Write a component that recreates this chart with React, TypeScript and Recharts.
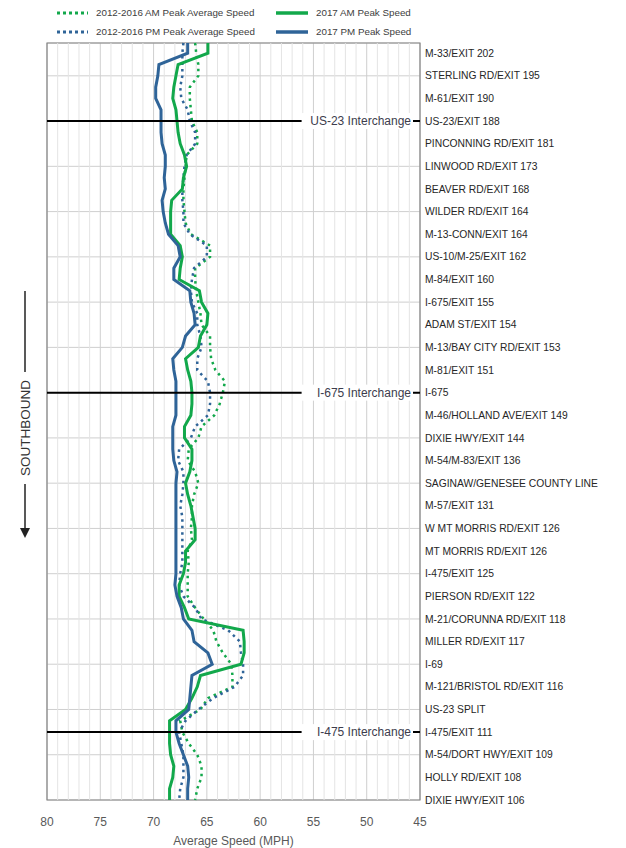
import React from 'react';
import { LineChart, Line, XAxis, YAxis, CartesianGrid, ReferenceLine, ReferenceArea } from 'recharts';

const stations = [
  'M-33/EXIT 202',
  'STERLING RD/EXIT 195',
  'M-61/EXIT 190',
  'US-23/EXIT 188',
  'PINCONNING RD/EXIT 181',
  'LINWOOD RD/EXIT 173',
  'BEAVER RD/EXIT 168',
  'WILDER RD/EXIT 164',
  'M-13-CONN/EXIT 164',
  'US-10/M-25/EXIT 162',
  'M-84/EXIT 160',
  'I-675/EXIT 155',
  'ADAM ST/EXIT 154',
  'M-13/BAY CITY RD/EXIT 153',
  'M-81/EXIT 151',
  'I-675',
  'M-46/HOLLAND AVE/EXIT 149',
  'DIXIE HWY/EXIT 144',
  'M-54/M-83/EXIT 136',
  'SAGINAW/GENESEE COUNTY LINE',
  'M-57/EXIT 131',
  'W MT MORRIS RD/EXIT 126',
  'MT MORRIS RD/EXIT 126',
  'I-475/EXIT 125',
  'PIERSON RD/EXIT 122',
  'M-21/CORUNNA RD/EXIT 118',
  'MILLER RD/EXIT 117',
  'I-69',
  'M-121/BRISTOL RD/EXIT 116',
  'US-23 SPLIT',
  'I-475/EXIT 111',
  'M-54/DORT HWY/EXIT 109',
  'HOLLY RD/EXIT 108',
  'DIXIE HWY/EXIT 106',
];

// position along the corridor, in station steps (0 = M-33, 33 = Dixie Hwy/Exit 106)
const positions = [
  -0.45, 0, 0.5, 1, 1.5, 2, 2.5, 3, 3.5, 4, 4.5, 5, 5.5, 6, 6.5, 7, 7.5, 8,
  8.5, 9, 9.5, 10, 10.5, 11, 11.5, 12, 12.5, 13, 13.5, 14, 14.5, 15, 15.5, 16,
  16.5, 17, 17.5, 18, 18.5, 19, 19.5, 20, 20.5, 21, 21.5, 22, 22.5, 23, 23.5, 24,
  24.5, 25, 25.5, 26, 26.5, 27, 27.5, 28, 28.5, 29, 29.5, 30, 30.5, 31, 31.5, 32,
  32.5, 33,
];

const amHist = [
  66.1, 66.0, 65.8, 65.8, 66.6, 66.6, 66.5, 66.4, 65.9, 65.9, 66.9, 67.0, 67.1, 67.2, 67.2, 67.1, 67.0, 66.5,
  64.7, 64.7, 66.1, 66.1, 66.0, 65.8, 65.6, 65.5, 64.7, 64.7, 64.6, 64.2, 63.3, 63.5, 63.8, 64.3,
  65.5, 65.8, 66.7, 66.8, 66.1, 65.8, 66.2, 66.4, 66.4, 66.5, 66.4, 66.8, 66.7, 66.8, 66.8, 66.8,
  66.1, 65.3, 64.4, 64.1, 63.5, 62.7, 62.6, 62.6, 64.9, 65.6, 67.5, 67.3, 66.7, 65.9, 65.5, 65.5,
  65.9, 66.1,
];

const amCur = [
  64.9, 64.9, 67.7, 67.9, 68.1, 68.2, 67.9, 67.8, 67.7, 67.5, 67.1, 66.9, 67.2, 67.3, 68.3, 68.4, 68.4, 68.4,
  67.5, 67.3, 67.5, 67.6, 65.7, 65.5, 64.9, 65.0, 65.6, 65.8, 67.0, 66.8, 66.5, 66.4, 66.4, 66.5,
  67.1, 67.1, 66.4, 66.4, 66.6, 67.0, 66.8, 66.5, 66.3, 66.1, 66.1, 67.0, 67.0, 67.2, 67.6, 67.6,
  67.1, 66.7, 61.6, 61.5, 61.5, 61.8, 65.6, 65.9, 66.4, 67.0, 68.5, 68.5, 68.5, 68.4, 68.1, 68.2,
  68.5, 68.5,
];

const pmHist = [
  67.2, 67.3, 67.3, 67.3, 67.5, 67.4, 66.8, 66.6, 66.1, 66.1, 66.9, 67.1, 67.2, 67.3, 67.3, 67.2, 67.2, 66.6,
  65.0, 65.0, 66.2, 66.4, 66.5, 66.4, 65.9, 65.9, 65.6, 65.5, 65.9, 65.9, 64.9, 64.7, 64.7, 64.9,
  66.1, 66.5, 67.6, 67.7, 67.2, 67.2, 67.3, 67.5, 67.3, 67.3, 67.3, 67.3, 67.3, 67.5, 67.6, 67.2,
  66.1, 65.5, 63.0, 61.9, 61.8, 61.6, 61.6, 62.4, 64.4, 65.8, 67.0, 67.6, 67.4, 67.2, 67.2, 67.2,
  67.5, 67.6,
];

const pmCur = [
  66.8, 66.8, 69.5, 69.6, 69.8, 69.8, 69.3, 69.3, 69.3, 69.2, 68.9, 68.9, 69.0, 68.9, 69.2, 69.1, 68.9, 68.6,
  67.7, 67.5, 68.1, 68.1, 66.6, 66.5, 66.2, 66.1, 67.0, 67.3, 68.2, 68.1, 67.9, 67.9, 67.9, 67.9,
  68.2, 68.2, 68.2, 68.1, 67.8, 67.9, 67.9, 67.9, 67.9, 67.9, 67.9, 67.9, 67.9, 67.9, 68.0, 67.8,
  67.4, 67.2, 66.4, 66.2, 64.9, 64.5, 66.4, 66.5, 66.6, 66.7, 67.9, 67.9, 67.6, 67.2, 66.8, 66.7,
  66.8, 66.8,
];

const interchangePos = [3, 15, 30];
const interchangeNames = ['US-23 Interchange', 'I-675 Interchange', 'I-475 Interchange'];

const speedTicks = [80, 75, 70, 65, 60, 55, 50, 45];

const GREEN = '#12a84b';
const BLUE = '#2f6498';
const FONT = '"Liberation Sans", Arial, sans-serif';

const data = positions.map((pos, i) => ({
  pos,
  amHist: amHist[i],
  amCur: amCur[i],
  pmHist: pmHist[i],
  pmCur: pmCur[i],
}));

const stationTicks = stations.map((_, i) => i);
const gridTicks = stationTicks.filter((i) => i % 2 === 1);
// 1 mph minor grid between the labelled 5 mph lines
const minorTicks = Array.from({ length: 36 }, (_, i) => 45 + i).filter((v) => v % 5 !== 0);

const StationTick = (props: any) => {
  const { x, y, payload } = props;
  return (
    <text x={x} y={y} dy="0.35em" textAnchor="start" fontSize={10.3} fontFamily={FONT} fill="#262626">
      {stations[payload.value]}
    </text>
  );
};

const InterchangeLabel = (props: any) => {
  const { viewBox, text } = props;
  if (!viewBox) return null;
  const right = viewBox.x + viewBox.width - 9;
  const w = text.length * 6.2 + 4;
  return (
    <g>
      <rect x={right - w} y={viewBox.y - 8} width={w + 2} height={16} fill="#fff" />
      <text
        x={right}
        y={viewBox.y}
        dy="0.35em"
        textAnchor="end"
        fontSize={12}
        fontFamily={FONT}
        fill="#3d3d4d"
      >
        {text}
      </text>
    </g>
  );
};

const Legend = () => {
  const rows = [
    { y: 13, color: GREEN, hist: '2012-2016 AM Peak Average Speed', cur: '2017 AM Peak Speed' },
    { y: 32, color: BLUE, hist: '2012-2016 PM Peak Average Speed', cur: '2017 PM Peak Speed' },
  ];
  return (
    <svg width={626} height={42} style={{ position: 'absolute', left: 0, top: 0 }}>
      {rows.map((r) => (
        <g key={r.hist}>
          <line x1={57} x2={88} y1={r.y} y2={r.y} stroke={r.color} strokeWidth={3} strokeDasharray="3 3" />
          <text x={96} y={r.y} dy="0.35em" fontSize={9.8} fontFamily={FONT} fill="#404040">{r.hist}</text>
          <line x1={276} x2={308} y1={r.y} y2={r.y} stroke={r.color} strokeWidth={3.5} />
          <text x={316} y={r.y} dy="0.35em" fontSize={9.8} fontFamily={FONT} fill="#404040">{r.cur}</text>
        </g>
      ))}
    </svg>
  );
};

const Direction = () => (
  <svg width={50} height={848} style={{ position: 'absolute', left: 0, top: 0 }}>
    <line x1={25} x2={25} y1={291} y2={372} stroke="#222" strokeWidth={1.5} />
    <text
      x={25}
      y={428}
      transform="rotate(-90 25 428)"
      textAnchor="middle"
      dy="0.35em"
      fontSize={13.5}
      fontFamily={FONT}
      fill="#333"
    >
      SOUTHBOUND
    </text>
    <line x1={25} x2={25} y1={484} y2={530} stroke="#222" strokeWidth={1.5} />
    <polygon points="20,528 30,528 25,538" fill="#222" />
  </svg>
);

export default function App() {
  return (
    <div style={{ position: 'absolute', left: 0, top: 0, width: 626, height: 848, background: '#fff' }}>
      <LineChart
        layout="vertical"
        width={626}
        height={848}
        data={data}
        margin={{ top: 43, right: 6, bottom: 2, left: 47 }}
      >
        <YAxis yAxisId="grid" type="number" dataKey="pos" domain={[-0.45, 33]} ticks={gridTicks} hide />
        {minorTicks.map((v) => (
          <ReferenceLine key={`m${v}`} x={v} stroke="#e4e4e4" strokeWidth={1} />
        ))}
        <CartesianGrid yAxisId="grid" stroke="#cfcfcf" strokeWidth={1} />
        <XAxis
          type="number"
          domain={[45, 80]}
          reversed
          ticks={speedTicks}
          interval={0}
          tickLine={false}
          axisLine={false}
          height={46}
          tickMargin={11}
          tick={{ fontSize: 12, fill: '#595959', fontFamily: FONT }}
          label={{ value: 'Average Speed (MPH)', position: 'insideBottom', offset: 1, fontSize: 12, fill: '#595959', fontFamily: FONT }}
        />
        <YAxis
          type="number"
          dataKey="pos"
          domain={[-0.45, 33]}
          orientation="right"
          width={200}
          ticks={stationTicks}
          interval={0}
          tickLine={false}
          axisLine={false}
          tickSize={0}
          tickMargin={5}
          tick={<StationTick />}
        />
        <Line dataKey="amHist" stroke={GREEN} strokeWidth={2.5} strokeDasharray="2.5 4" dot={false} isAnimationActive={false} />
        <Line dataKey="pmHist" stroke={BLUE} strokeWidth={2.5} strokeDasharray="2.5 4" dot={false} isAnimationActive={false} />
        <Line dataKey="amCur" stroke={GREEN} strokeWidth={3} dot={false} isAnimationActive={false} />
        <Line dataKey="pmCur" stroke={BLUE} strokeWidth={3} dot={false} isAnimationActive={false} />
        <ReferenceArea x1={80} x2={45} y1={-0.45} y2={33} fill="none" stroke="#858585" strokeWidth={1.2} />
        {interchangePos.map((p, i) => (
          <ReferenceLine
            key={p}
            y={p}
            stroke="#000"
            strokeWidth={2}
            label={<InterchangeLabel text={interchangeNames[i]} />}
          />
        ))}
      </LineChart>
      <Legend />
      <Direction />
    </div>
  );
}
